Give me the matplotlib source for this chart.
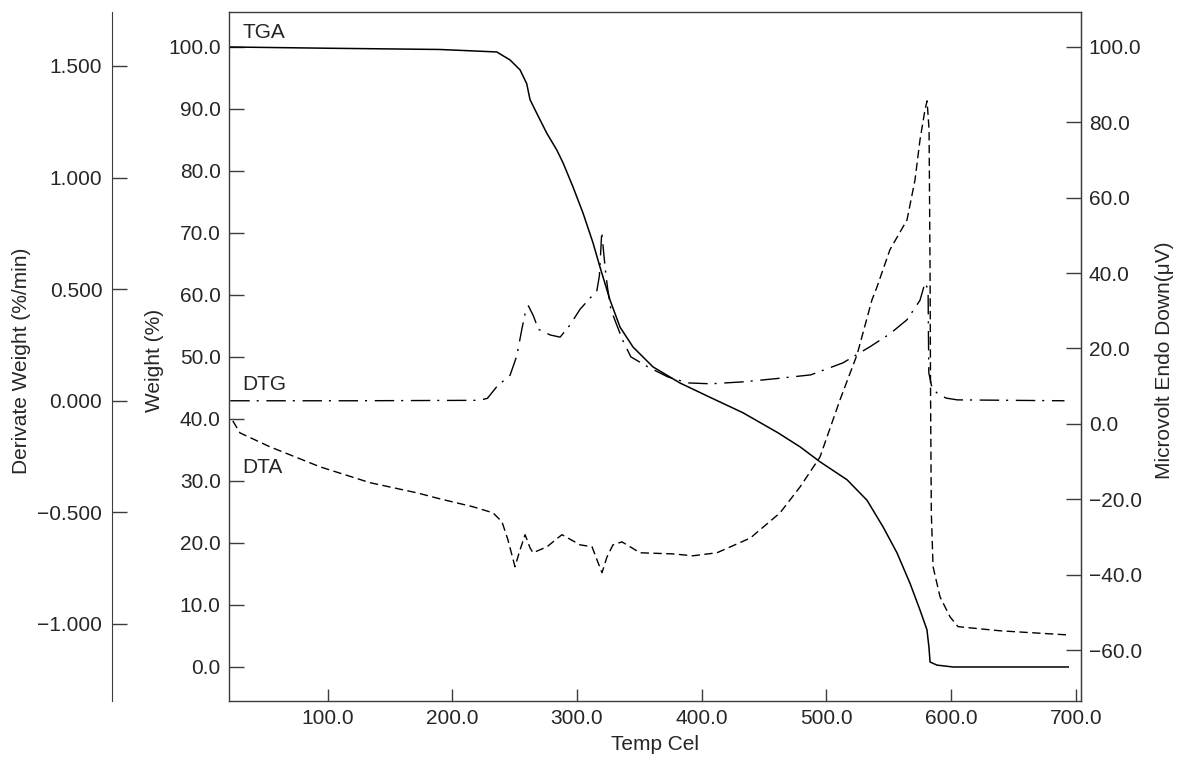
import numpy as np
import matplotlib
matplotlib.use("Agg")
import matplotlib.pyplot as plt
from matplotlib import ticker

plt.rcParams['font.family'] = ['Liberation Sans', 'DejaVu Sans']

# TGA (weight %, left inner axis)
tga_t = [22, 100, 190, 235.7, 246.4, 254.4, 259.7, 262.4, 267.8, 275.8, 283.8, 288.9,
         296.9, 304.9, 312.9, 318.5, 326.5, 334.6, 345, 361, 382.7, 406.7, 433.2,
         461, 479, 494.9, 516.6, 532.6, 545.5, 556.7, 567.1, 575.1, 580.7, 582.3,
         583.2, 588.8, 601.6, 650, 694]
tga_w = [100, 99.8, 99.6, 99.2, 97.9, 96.3, 94.1, 91.5, 89.3, 86.1, 83.4, 81.3,
         77.4, 73.2, 68.4, 64.5, 59.2, 54.8, 51.6, 48.4, 45.8, 43.5, 41.0,
         37.8, 35.5, 33.1, 30.2, 26.9, 22.6, 18.4, 13.5, 9.2, 6.0, 3.2,
         0.8, 0.3, 0.0, 0.0, 0.0]

# DTG (derivative weight %/min, left outer axis)
dtg_t = [22, 120, 222, 228.2, 235.7, 246.4, 251.7, 255.8, 258.4, 261.1, 265.1, 269.1,
         278.5, 286.5, 294.5, 302.5, 310.5, 315.9, 318, 319.1, 319.9, 321.5, 323.1,
         324.7, 327.2, 331.2, 336.8, 343.2, 356.8, 372.9, 388.9, 407.3, 433.8,
         461.1, 487.5, 513.4, 535, 551, 564.7, 575.1, 579.1, 581.6, 581.9, 582.2,
         584.5, 588.5, 596, 605, 691]
dtg_d = [0.0, 0.0, 0.002, 0.011, 0.063, 0.115, 0.2, 0.32, 0.39, 0.425, 0.38, 0.32,
         0.295, 0.285, 0.34, 0.41, 0.46, 0.49, 0.56, 0.67, 0.757, 0.66, 0.57,
         0.50, 0.41, 0.35, 0.27, 0.197, 0.152, 0.107, 0.08, 0.076, 0.085,
         0.100, 0.116, 0.17, 0.242, 0.30, 0.363, 0.45, 0.528, 0.5, 0.3, 0.125,
         0.064, 0.036, 0.012, 0.004, 0.0]

# DTA (microvolt, right axis)
dta_t = [24, 29.8, 53.9, 94, 134, 171.7, 190.2, 216.7, 232.7, 239.9, 244.7, 250.3,
         254.4, 258.4, 262.4, 264.8, 276, 288, 302.5, 312.1, 316.1, 320.1, 324.1,
         328.9, 336.1, 344.1, 350.6, 377, 393, 412.3, 439, 462.9, 479, 494.9, 511,
         524.6, 536.6, 540.6, 551, 564.7, 571.1, 575.1, 579.1, 580.8, 582.4, 583.2,
         583.6, 584.2, 585.6, 591.2, 599.2, 605.6, 639.3, 693.8]
dta_m = [0.8, -2.4, -6.1, -11.4, -15.6, -18.3, -19.9, -22.0, -23.6, -26.0, -30.8, -37.9,
         -33.4, -29.4, -32.9, -34.2, -32.6, -29.4, -32.1, -32.6, -36.1, -39.5, -35.3,
         -32.1, -31.3, -32.9, -34.2, -34.5, -35.0, -34.2, -30.3, -23.6, -16.7, -8.8, 6.4,
         18.3, 32.9, 36.3, 46.2, 54.1, 64.7, 75.3, 83.3, 85.7, 78, 40,
         7.2, -23.6, -37.9, -45.9, -51.2, -53.8, -54.9, -56.0]

x_ticks = [100, 200, 300, 400, 500, 600, 700]
w_ticks = list(range(0, 101, 10))
d_ticks = [-1.0, -0.5, 0.0, 0.5, 1.0, 1.5]
m_ticks = list(range(-60, 101, 20))

txt = '#262626'
spc = '#3c3c3c'
fs = 15


def fmt(nd):
    return ticker.FuncFormatter(lambda v, p: f"{v:.{nd}f}".replace('-', '\u2212'))


fig = plt.figure(figsize=(11.77, 7.62), dpi=100)
ax = fig.add_axes([0.1946, 0.0801, 0.7239, 0.9042])
ax_d = ax.twinx()
ax_m = ax.twinx()

ax.plot(tga_t, tga_w, color='black', lw=1.1)
ax_d.plot(dtg_t, dtg_d, color='black', lw=1.0, linestyle=(0, (14, 5, 1.5, 5.5)))
ax_m.plot(dta_t, dta_m, color='black', lw=1.0, linestyle=(0, (6, 3.2)))

ax.set_xlim(21, 704.3)
ax.set_ylim(-5.48, 105.65)
ax_d.set_ylim(-1.345, 1.742)
ax_m.set_ylim(-73.52, 109.29)

ax.set_xticks(x_ticks)
ax.set_yticks(w_ticks)
ax_d.set_yticks(d_ticks)
ax_m.set_yticks(m_ticks)
ax.xaxis.set_major_formatter(fmt(1))
ax.yaxis.set_major_formatter(fmt(1))
ax_d.yaxis.set_major_formatter(fmt(3))
ax_m.yaxis.set_major_formatter(fmt(1))

for sp in ax.spines.values():
    sp.set_color(spc)
    sp.set_linewidth(1.0)

for k in ['top', 'bottom', 'right']:
    ax_d.spines[k].set_visible(False)
ax_d.spines['left'].set_visible(True)
ax_d.spines['left'].set_position(('axes', -0.1373))
ax_d.spines['left'].set_color(spc)
ax_d.yaxis.set_ticks_position('left')
ax_d.yaxis.set_label_position('left')

for k in ['top', 'bottom', 'left']:
    ax_m.spines[k].set_visible(False)
ax_m.spines['right'].set_color(spc)

ax.tick_params(axis='x', direction='in', length=8.4, width=1.0, pad=5.5,
               labelsize=fs, colors=txt, top=False)
ax.tick_params(axis='y', direction='in', length=11, width=1.0, pad=6,
               labelsize=fs, colors=txt, right=False)
ax_d.tick_params(axis='y', direction='in', length=11, width=1.0, pad=7,
                 labelsize=fs, colors=txt)
ax_m.tick_params(axis='y', direction='in', length=11, width=1.0, pad=5.5,
                 labelsize=fs, colors=txt)
for a in (ax, ax_d, ax_m):
    a.tick_params(axis='both', color=spc)

ax.set_xlabel('Temp Cel', fontsize=fs, color=txt)
ax.xaxis.set_label_coords(0.5, -0.0493)
ax.set_ylabel('Weight (%)', fontsize=fs, color=txt)
ax.yaxis.set_label_coords(-0.0763, 0.494)
ax_d.set_ylabel('Derivate Weight (%/min)', fontsize=fs, color=txt)
ax_d.yaxis.set_label_coords(-0.2324, 0.494)
ax_m.set_ylabel('Microvolt Endo Down(μV)', fontsize=fs, color=txt)
ax_m.yaxis.set_label_coords(1.0869, 0.494)

ax.text(0.0153, 0.9623, 'TGA', transform=ax.transAxes, va='baseline', fontsize=fs, color=txt)
ax.text(0.0153, 0.4514, 'DTG', transform=ax.transAxes, va='baseline', fontsize=fs, color=txt)
ax.text(0.0153, 0.3309, 'DTA', transform=ax.transAxes, va='baseline', fontsize=fs, color=txt)

fig.savefig('out.png', dpi=100)
